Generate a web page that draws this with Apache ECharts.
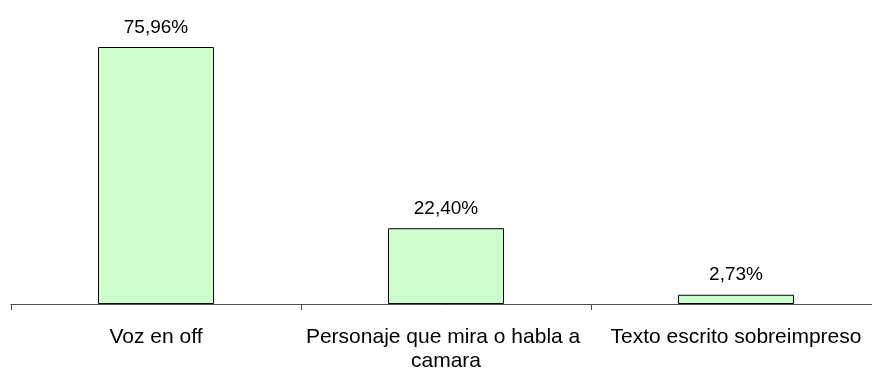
<!DOCTYPE html>
<html>
<head>
<meta charset="utf-8">
<script src="https://cdn.jsdelivr.net/npm/echarts@6/dist/echarts.min.js"></script>
<style>
  html, body { margin: 0; padding: 0; background: #ffffff; }
  #chart { width: 872px; height: 369px; }
</style>
</head>
<body>
<div id="chart"></div>
<script>
// Categories and their percentages
const categories = ['Voz en off', 'Personaje que mira o habla a camara', 'Texto escrito sobreimpreso'];
const percentages = [75.96, 22.40, 2.73];

const fontFamily = '"Liberation Sans", Arial, sans-serif';

const chart = echarts.init(document.getElementById('chart'), null, { renderer: 'canvas' });

chart.setOption({
  animation: false,
  backgroundColor: '#ffffff',
  grid: {
    left: 11, top: 16.4, width: 870, height: 287.6,
    containLabel: false,
    outerBoundsMode: 'none'
  },
  xAxis: {
    type: 'category',
    data: categories,
    boundaryGap: true,
    axisLine: { show: true, lineStyle: { color: '#4d4d4d', width: 1 } },
    axisTick: { show: true, length: 6, lineStyle: { color: '#4d4d4d', width: 1 } },
    axisLabel: {
      interval: 0,
      margin: 21,
      color: '#000000',
      fontFamily: fontFamily,
      fontSize: 21,
      lineHeight: 24,
      width: 290,
      overflow: 'break'
    }
  },
  yAxis: {
    type: 'value',
    min: 0,
    max: 85,
    show: false,
    splitLine: { show: false }
  },
  series: [{
    type: 'bar',
    data: percentages,
    barWidth: '40%',
    itemStyle: { color: '#ccffcc', borderColor: '#000000', borderWidth: 1 },
    label: {
      show: true,
      position: 'top',
      distance: 10,
      color: '#000000',
      fontFamily: fontFamily,
      fontSize: 19,
      formatter: p => p.value.toFixed(2).replace('.', ',') + '%'
    }
  }]
});
</script>
</body>
</html>
